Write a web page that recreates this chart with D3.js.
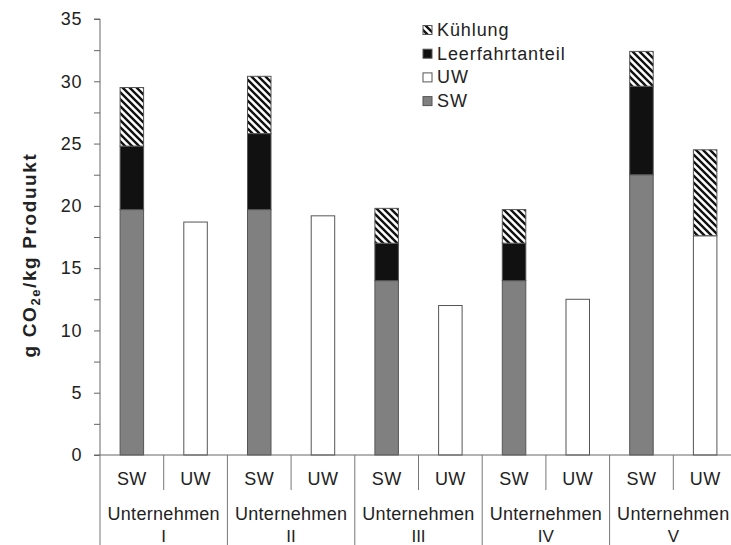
<!DOCTYPE html>
<html>
<head>
<meta charset="utf-8">
<script src="https://cdn.jsdelivr.net/npm/d3@7"></script>
<style>
  html, body { margin: 0; padding: 0; background: #fff; }
  svg { display: block; font-family: "Liberation Sans", Arial, sans-serif; }
</style>
</head>
<body>
<svg id="chart" width="731" height="545"></svg>
<script>
// one entry per bar, company by company, SW then UW
const companies = ["I", "II", "III", "IV", "V"];
const barTypes = ["SW", "UW"];
const swValues = [19.7, 0, 19.7, 0, 14.0, 0, 14.0, 0, 22.5, 0];
const uwValues = [0, 18.7, 0, 19.2, 0, 12.0, 0, 12.5, 0, 17.6];
const leerValues = [5.1, 0, 6.1, 0, 3.0, 0, 3.0, 0, 7.1, 0];
const kuehlValues = [4.7, 0, 4.6, 0, 2.8, 0, 2.7, 0, 2.8, 6.9];
const yTicks = [0, 5, 10, 15, 20, 25, 30, 35];
const legendItems = ["Kühlung", "Leerfahrtanteil", "UW", "SW"];

const keys = ["SW", "UW", "Leerfahrtanteil", "Kühlung"];
const fills = { SW: "#808080", UW: "#ffffff", Leerfahrtanteil: "#111111", "Kühlung": "url(#hatch)" };

const svg = d3.select("#chart");
const margin = { top: 19, left: 100, bottom: 90 };
const plotRight = 737;
const height = 545 - margin.top - margin.bottom;

const defs = svg.append("defs");
const pat = defs.append("pattern")
  .attr("id", "hatch")
  .attr("patternUnits", "userSpaceOnUse")
  .attr("width", 7).attr("height", 7);
pat.append("rect").attr("width", 7).attr("height", 7).attr("fill", "#fff");
pat.append("path")
  .attr("d", "M0,0L7,7M-1,6L1,8M6,-1L8,1")
  .attr("stroke", "#111").attr("stroke-width", 2.4);

const bars = [];
companies.forEach((c, ci) => {
  barTypes.forEach((t, ti) => {
    const i = ci * 2 + ti;
    bars.push({
      id: c + "-" + t, company: c, type: t,
      SW: swValues[i], UW: uwValues[i], Leerfahrtanteil: leerValues[i], "Kühlung": kuehlValues[i],
    });
  });
});

const x = d3.scaleBand()
  .domain(bars.map((d) => d.id))
  .range([margin.left, plotRight])
  .paddingInner(0).paddingOuter(0);

const y = d3.scaleLinear().domain([0, 35]).range([margin.top + height, margin.top]);

const stacked = d3.stack().keys(keys)(bars);
const barW = 23.5;

const g = svg.append("g");
stacked.forEach((layer) => {
  g.selectAll(null)
    .data(layer.filter((d) => d[1] - d[0] > 0))
    .enter()
    .append("rect")
    .attr("x", (d) => x(d.data.id) + x.bandwidth() / 2 - barW / 2)
    .attr("y", (d) => y(d[1]))
    .attr("width", barW)
    .attr("height", (d) => y(d[0]) - y(d[1]))
    .attr("fill", fills[layer.key])
    .attr("stroke", "#555")
    .attr("stroke-width", 1);
});

// y axis with minor ticks every 2.5
const yAxis = d3.axisLeft(y)
  .tickValues(d3.range(0, 35.01, 2.5))
  .tickSize(6)
  .tickFormat((d) => (yTicks.includes(d) ? d : ""));
const ya = svg.append("g").attr("transform", `translate(${margin.left},0)`).call(yAxis);
ya.select(".domain").attr("stroke", "#666").attr("d", `M-6,${y(35)}H0V${y(0)}`);
ya.selectAll(".tick line").attr("stroke", "#666");
ya.selectAll(".tick text")
  .attr("x", -18)
  .attr("font-size", 18)
  .attr("letter-spacing", 0.6)
  .attr("font-family", "Liberation Sans, Arial, sans-serif")
  .attr("fill", "#222");

// baseline
const y0 = y(0);
svg.append("line")
  .attr("x1", margin.left - 6).attr("x2", plotRight)
  .attr("y1", y0).attr("y2", y0)
  .attr("stroke", "#666");

// category dividers
const bandW = x.bandwidth();
bars.forEach((d, i) => {
  const left = x(d.id);
  const isGroupStart = i % 2 === 0;
  svg.append("line")
    .attr("x1", left).attr("x2", left)
    .attr("y1", y0).attr("y2", isGroupStart ? 545 : y0 + 35)
    .attr("stroke", "#777");
  svg.append("text")
    .attr("x", left + bandW / 2).attr("y", 479)
    .attr("text-anchor", "middle").attr("dominant-baseline", "central")
    .attr("font-size", 18).attr("letter-spacing", 0.4).attr("fill", "#222")
    .text(d.type);
});

companies.forEach((c) => {
  const cx = x(c + "-SW") + bandW;
  svg.append("text")
    .attr("x", cx).attr("y", 514)
    .attr("text-anchor", "middle").attr("dominant-baseline", "central")
    .attr("font-size", 18).attr("letter-spacing", 0.3).attr("fill", "#222")
    .text("Unternehmen");
  svg.append("text")
    .attr("x", cx).attr("y", 542)
    .attr("text-anchor", "middle")
    .attr("font-size", 17).attr("fill", "#222")
    .text(c);
});

// y axis title
const title = svg.append("text")
  .attr("transform", "translate(36,255) rotate(-90)")
  .attr("text-anchor", "middle")
  .attr("font-size", 19).attr("letter-spacing", 1.6)
  .attr("font-weight", "bold").attr("fill", "#222");
title.append("tspan").text("g  CO");
title.append("tspan").attr("font-size", 13).attr("dy", 4).text("2e");
title.append("tspan").attr("dy", -4).text("/kg Produukt");

// legend
const legendFills = { "Kühlung": "url(#hatch)", Leerfahrtanteil: "#111111", UW: "#ffffff", SW: "#808080" };
const lg = svg.append("g").attr("transform", "translate(423,30)");
legendItems.forEach((k, i) => {
  const row = lg.append("g").attr("transform", `translate(0,${i * 23.7})`);
  row.append("rect")
    .attr("x", 0).attr("y", -4.5).attr("width", 9).attr("height", 9)
    .attr("fill", legendFills[k]).attr("stroke", "#555");
  row.append("text")
    .attr("x", 14).attr("y", 0).attr("dominant-baseline", "central")
    .attr("font-size", 18).attr("letter-spacing", 0.9).attr("fill", "#222")
    .text(k);
});
</script>
</body>
</html>
